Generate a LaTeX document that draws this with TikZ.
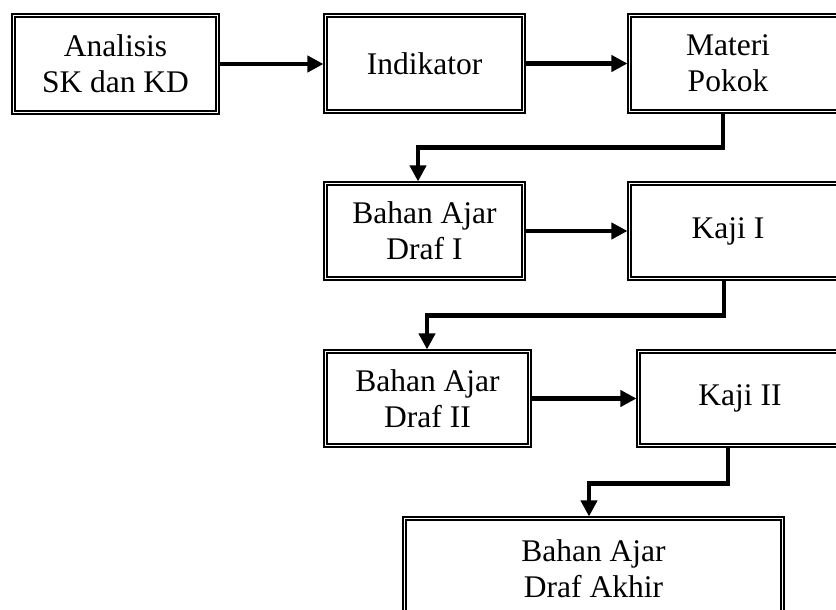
\documentclass[tikz,border=0pt]{standalone}
\usepackage{fontspec}
\setmainfont{Liberation Serif}
\usetikzlibrary{arrows.meta}
\tikzset{
  box/.style={draw, line width=1.8pt, double=white, double distance=1.1pt,
    inner sep=0pt, align=center, font=\fontsize{31.5}{36}\selectfont},
  lbl/.style={inner sep=0pt, align=center, font=\fontsize{31.5}{36}\selectfont},
  conn/.style={line width=4.3pt, -{Triangle[length=16pt,width=16pt]}, shorten >=1pt}
}
\begin{document}
\begin{tikzpicture}[x=1pt,y=-1pt]
\useasboundingbox (0,0) rectangle (836,610);
\begin{scope}
\clip (0,0) rectangle (836,610);
\node[box, minimum width=204.3pt, minimum height=97.3pt] (b1) at (115.5,64) {Analisis\\SK dan KD};
\node[box, minimum width=198.3pt, minimum height=96.3pt] (b2) at (424.5,63.5) {Indikator};
\node[box, minimum width=213.3pt, minimum height=96.3pt] (b3) at (736,63.5) {};
\node[lbl] (t3) at (728,63.5) {Materi\\Pokok};
\node[box, minimum width=198.3pt, minimum height=95.3pt] (b4) at (424.5,231) {Bahan Ajar\\Draf I};
\node[box, minimum width=213.3pt, minimum height=95.3pt] (b5) at (736,231) {};
\node[lbl] (t5) at (728,231) {Kaji I};
\node[box, minimum width=204.3pt, minimum height=94.3pt] (b6) at (427.5,398.5) {Bahan Ajar\\Draf II};
\node[box, minimum width=209.3pt, minimum height=94.3pt] (b7) at (743,398.5) {};
\node[lbl] (t7) at (740,398.5) {Kaji II};
\node[box, minimum width=378.3pt, minimum height=101.3pt] (b8) at (593.5,569) {Bahan Ajar\\Draf Akhir};

\draw[conn] (b1.east) -- (b1.east -| b2.west);
\draw[conn] (b2.east) -- (b2.east -| b3.west);
\draw[conn] (b4.east) -- (b4.east -| b5.west);
\draw[conn] (b6.east) -- (b6.east -| b7.west);

\draw[conn] ([xshift=-13pt]b3.south) -- ++(0,35) -| ([xshift=-6.5pt]b4.north);
\draw[conn] ([xshift=-12pt]b5.south) -- ++(0,36) -| ([xshift=-0.5pt]b6.north);
\draw[conn] ([xshift=-15pt]b7.south) -- ++(0,37) -| ([xshift=-4.5pt]b8.north);
\end{scope}
\end{tikzpicture}
\end{document}
